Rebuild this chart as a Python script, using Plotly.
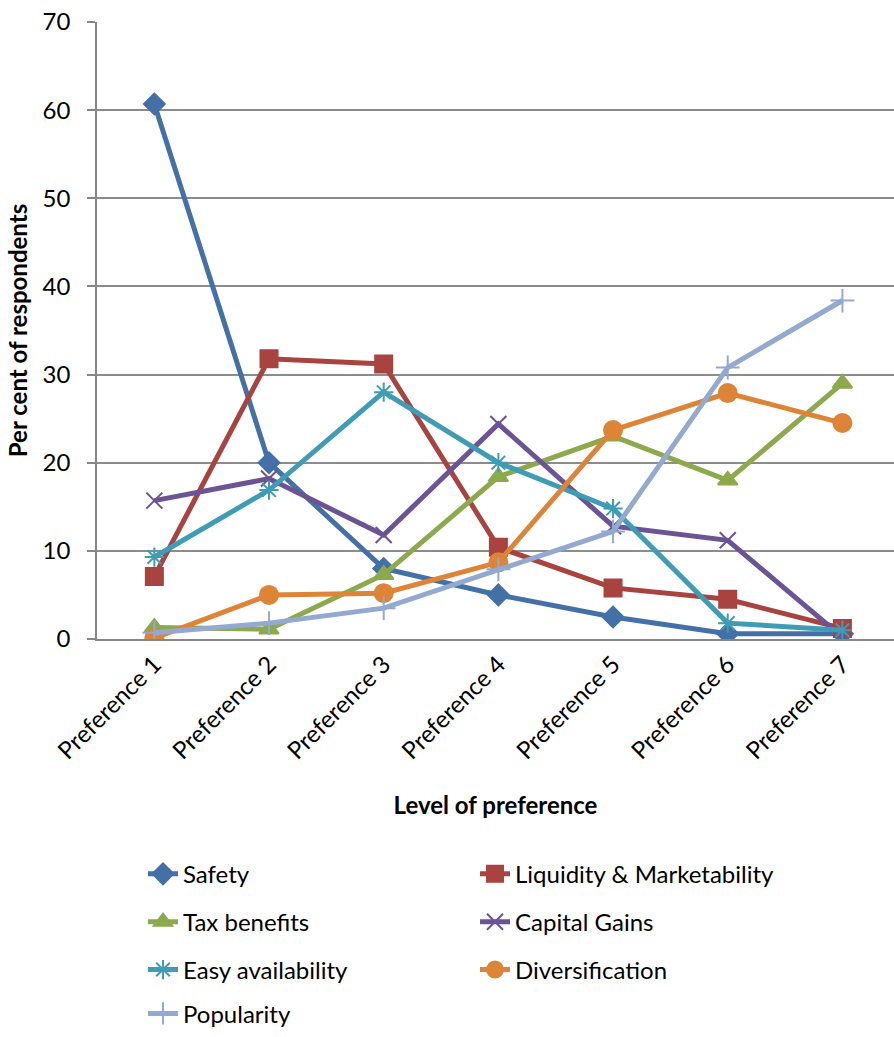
import plotly.graph_objects as go

categories = ["Preference 1", "Preference 2", "Preference 3", "Preference 4",
              "Preference 5", "Preference 6", "Preference 7"]

series_names = ["Safety", "Liquidity & Marketability", "Tax benefits", "Capital Gains",
                "Easy availability", "Diversification", "Popularity"]

safety = [60.7, 20.0, 8.0, 5.0, 2.5, 0.6, 0.6]
liquidity = [7.1, 31.8, 31.2, 10.4, 5.8, 4.5, 1.2]
tax_benefits = [1.3, 1.1, 7.3, 18.4, 23.0, 18.0, 29.0]
capital_gains = [15.7, 18.2, 11.8, 24.4, 12.8, 11.2, 0.2]
easy_availability = [9.3, 16.9, 28.0, 20.0, 14.8, 1.8, 1.0]
diversification = [0.1, 5.0, 5.2, 8.7, 23.7, 27.9, 24.5]
popularity = [0.7, 1.8, 3.5, 7.9, 12.2, 30.8, 38.4]

values = [safety, liquidity, tax_benefits, capital_gains,
          easy_availability, diversification, popularity]

colors = ["#4470A8", "#A8433F", "#8CA94C", "#6B5394", "#3E9DB5", "#DD8437", "#93A9CF"]
symbols = ["diamond", "square", "triangle-up", "x-thin", "asterisk-open", "circle", "cross-thin"]
sizes = [16, 17, 17, 16, 16, 18, 17]
legend_ids = ["legend", "legend", "legend2", "legend2", "legend3", "legend3", "legend4"]

FONT = "Lato, 'Open Sans', sans-serif"

fig = go.Figure()
for name, vals, col, sym, sz, lg in zip(series_names, values, colors, symbols, sizes, legend_ids):
    fig.add_trace(go.Scatter(
        x=categories, y=vals, name=name, mode="lines+markers",
        line=dict(color=col, width=5),
        marker=dict(symbol=sym, size=sz, color=col, line=dict(color=col, width=2)),
        legend=lg,
    ))

plot_top, plot_bottom = 22, 641
plot_h = plot_bottom - plot_top
row_y = [877, 925, 973, 1017]

def leg(yp):
    return dict(orientation="h", x=(143 - 97) / 797, xanchor="left",
                y=(plot_bottom - yp) / plot_h, yanchor="middle",
                entrywidth=287, entrywidthmode="pixels",
                font=dict(family=FONT, size=24, color="#000000"),
                bgcolor="rgba(0,0,0,0)", itemclick=False)

fig.update_layout(
    width=894, height=1037,
    margin=dict(l=97, r=0, t=plot_top, b=1037 - plot_bottom),
    paper_bgcolor="white", plot_bgcolor="white",
    font=dict(family=FONT, size=24, color="#000000"),
    showlegend=True,
    legend=leg(row_y[0]), legend2=leg(row_y[1]), legend3=leg(row_y[2]), legend4=leg(row_y[3]),
    xaxis=dict(
        type="category", range=[-0.5, 6.45],
        showline=True, linecolor="#868686", linewidth=1.5,
        showgrid=False, ticks="", tickangle=-45,
        tickfont=dict(family=FONT, size=24, color="#000000"),
        title=dict(text="<b>Level of preference</b>", font=dict(family=FONT, size=24), standoff=34),
    ),
    yaxis=dict(
        range=[0, 70], dtick=10, tick0=0,
        showline=True, linecolor="#868686", linewidth=1.5,
        showgrid=True, gridcolor="#8C8C8C", gridwidth=1.5,
        zeroline=False,
        ticks="outside", ticklen=8, tickcolor="#868686", tickwidth=1.5,
        ticklabelstandoff=12,
        tickfont=dict(family=FONT, size=24, color="#000000"),
        title=dict(text="<b>Per cent of respondents</b>", font=dict(family=FONT, size=24), standoff=8),
    ),
)

fig.write_html("out.html")
